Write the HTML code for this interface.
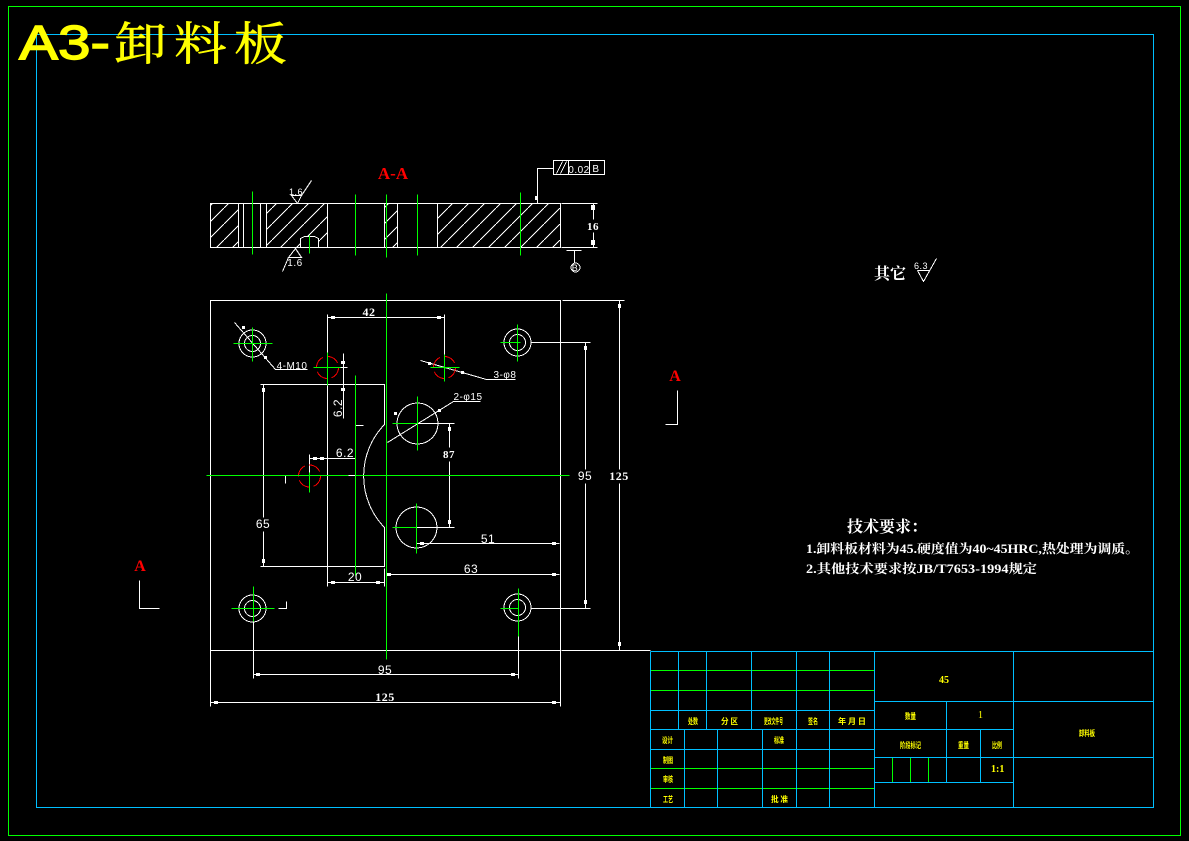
<!DOCTYPE html>
<html><head><meta charset="utf-8"><style>
html,body{margin:0;padding:0;background:#000;width:1189px;height:841px;overflow:hidden}
svg{display:block}
text{font-family:"Liberation Sans","Noto Sans CJK SC",sans-serif}
.s{font-family:"Liberation Serif","Noto Serif CJK SC",serif;font-weight:700}
.w line,.w path,.w circle,.w rect.o,.w polyline{fill:none;stroke:#fff;stroke-width:1}
.g line{stroke:#0f0;stroke-width:1}
.b line{stroke:#00bfff;stroke-width:1}
.g2 line{stroke:#0f0;stroke-width:1}
.t text{fill:#fff;text-anchor:middle;font-size:12px;letter-spacing:.5px}
.y text{fill:#ff0;font-size:8px;font-weight:700;font-family:"Noto Sans CJK SC",sans-serif}
.a rect{fill:#fff;stroke:none}
.r circle{fill:none;stroke:#f00;stroke-width:1;stroke-dasharray:13 4}
</style></head><body>
<svg width="1189" height="841" viewBox="0 0 1189 841" xmlns="http://www.w3.org/2000/svg" shape-rendering="crispEdges">
<defs>
<pattern id="h" patternUnits="userSpaceOnUse" width="16" height="16"><path d="M0 16L16 0" stroke="#fff" stroke-width="1" fill="none"/></pattern>
</defs>
<rect width="1189" height="841" fill="#000"/>
<rect x="8.5" y="6.5" width="1172" height="829" fill="none" stroke="#0f0"/>
<rect x="36.5" y="34.5" width="1117" height="773" fill="none" stroke="#00bfff"/>

<g shape-rendering="auto">
<text x="19" y="59" font-size="48" font-weight="400" fill="#ff0" stroke="#ff0" stroke-width="1.4" textLength="91" lengthAdjust="spacingAndGlyphs" style="font-family:'Liberation Sans',sans-serif">A3-</text>
<text transform="translate(114 60) scale(1.15 1)" font-size="46" fill="#ff0" stroke="#ff0" stroke-width=".5" style="font-family:'Noto Serif CJK SC',serif;font-weight:400;letter-spacing:6.2px">卸料板</text>
</g>

<!-- section view -->
<rect x="210" y="203" width="28" height="44" fill="url(#h)"/>
<rect x="266" y="203" width="61" height="44" fill="url(#h)"/>
<rect x="384" y="203" width="13" height="44" fill="url(#h)"/>
<rect x="437" y="203" width="123" height="44" fill="url(#h)"/>
<rect x="301" y="236" width="17" height="11" fill="#000"/>
<g class="w" transform="translate(.5 .5)">
<rect class="o" x="210" y="203" width="350" height="44"/>
<line x1="238" y1="203" x2="238" y2="247"/><line x1="243" y1="203" x2="243" y2="247"/>
<line x1="260" y1="203" x2="260" y2="247"/><line x1="266" y1="203" x2="266" y2="247"/>
<line x1="327" y1="203" x2="327" y2="247"/><line x1="384" y1="203" x2="384" y2="247"/>
<line x1="397" y1="203" x2="397" y2="247"/><line x1="437" y1="203" x2="437" y2="247"/>
<path d="M300 247V238L304 236H314L318 238V247"/>
<!-- roughness -->
<path d="M291 195H301L297 203ZM301 195L311 180"/>
<path d="M295 248L301 257H288ZM288 257L282 271"/>
<!-- tolerance -->
<rect class="o" x="553" y="160" width="51" height="14"/>
<line x1="568" y1="160" x2="568" y2="174"/><line x1="589" y1="160" x2="589" y2="174"/>
<path d="M553 168H537V203"/>
<path d="M556 173L562 161M560 173L566 161"/>
<!-- dim 16 -->
<line x1="561" y1="203" x2="597" y2="203"/><line x1="561" y1="247" x2="597" y2="247"/>
<line x1="593" y1="203" x2="593" y2="219"/><line x1="593" y1="232" x2="593" y2="247"/>
<line x1="566" y1="250" x2="581" y2="250"/><line x1="574" y1="250" x2="574" y2="262"/>
<circle cx="575" cy="267" r="4.5"/>
<!-- plan -->
<rect class="o" x="210" y="300" width="350" height="350"/>
<line x1="561" y1="650" x2="650" y2="650"/>
<line x1="562" y1="300" x2="624" y2="300"/>
<!-- slot -->
<path d="M260 384H384V424A74 74 0 0 0 384 527V566H260"/>
<line x1="327" y1="314" x2="327" y2="586"/>
<line x1="444" y1="314" x2="444" y2="356"/>
<line x1="327" y1="317" x2="444" y2="317"/>
<!-- holes -->
<circle cx="252" cy="343" r="13.5"/><circle cx="252" cy="343" r="8"/>
<circle cx="517" cy="342" r="13.5"/><circle cx="517" cy="342" r="8"/>
<circle cx="252" cy="608" r="13.5"/><circle cx="252" cy="608" r="8"/>
<circle cx="517" cy="607" r="13.5"/><circle cx="517" cy="607" r="8"/>
<circle cx="417" cy="423" r="20.5"/><circle cx="416" cy="527" r="20.5"/>
<!-- leaders -->
<path d="M234 322L275 369H307"/>
<path d="M420 360L486 379H515"/>
<path d="M387 442L453 401H480"/>
<!-- dims -->
<path d="M313 367H347"/>
<line x1="343" y1="353" x2="343" y2="418"/>
<line x1="309" y1="454" x2="309" y2="476"/>
<line x1="309" y1="458" x2="355" y2="458"/>
<path d="M355 425H363M285 483V475H293M348 475H355"/>
<line x1="263" y1="384" x2="263" y2="517"/><line x1="263" y1="531" x2="263" y2="566"/>
<line x1="417" y1="423" x2="454" y2="423"/><line x1="416" y1="527" x2="454" y2="527"/>
<line x1="449" y1="423" x2="449" y2="447"/><line x1="449" y1="461" x2="449" y2="527"/>
<line x1="416" y1="527" x2="416" y2="543"/>
<line x1="416" y1="543" x2="559" y2="543"/>
<line x1="386" y1="574" x2="559" y2="574"/><line x1="384" y1="568" x2="384" y2="586"/>
<line x1="327" y1="582" x2="384" y2="582"/>
<line x1="530" y1="342" x2="590" y2="342"/><line x1="530" y1="608" x2="590" y2="608"/>
<line x1="585" y1="342" x2="585" y2="469"/><line x1="585" y1="483" x2="585" y2="608"/>
<line x1="619" y1="300" x2="619" y2="469"/><line x1="619" y1="483" x2="619" y2="650"/>
<line x1="253" y1="621" x2="253" y2="678"/><line x1="518" y1="636" x2="518" y2="678"/>
<line x1="253" y1="674" x2="518" y2="674"/>
<line x1="210" y1="650" x2="210" y2="706"/><line x1="560" y1="650" x2="560" y2="706"/>
<line x1="210" y1="702" x2="560" y2="702"/>
<path d="M278 608H286V601"/>
<!-- A markers -->
<path d="M677 390V424H665"/>
<path d="M139 580V608H159"/>
<!-- other roughness -->
<path d="M917 270H929M917 270L923 281L936 258"/>
</g>
<g class="a">
<rect x="535" y="196" width="3" height="4"/>
<rect x="591" y="205" width="4" height="5"/><rect x="591" y="240" width="4" height="5"/>
<rect x="331" y="316" width="4" height="3"/><rect x="437" y="316" width="4" height="3"/>
<rect x="242" y="326" width="3" height="3"/><rect x="264" y="356" width="3" height="3"/>
<rect x="341" y="361" width="4" height="3"/><rect x="341" y="388" width="4" height="3"/>
<rect x="313" y="457" width="4" height="3"/><rect x="320" y="457" width="4" height="3"/>
<rect x="262" y="388" width="3" height="4"/><rect x="262" y="559" width="3" height="4"/>
<rect x="448" y="427" width="3" height="4"/><rect x="448" y="520" width="3" height="4"/>
<rect x="420" y="542" width="4" height="3"/><rect x="552" y="542" width="4" height="3"/>
<rect x="387" y="573" width="4" height="3"/><rect x="552" y="573" width="4" height="3"/>
<rect x="331" y="581" width="4" height="3"/><rect x="376" y="581" width="4" height="3"/>
<rect x="584" y="346" width="3" height="4"/><rect x="584" y="600" width="3" height="4"/>
<rect x="618" y="304" width="3" height="4"/><rect x="618" y="642" width="3" height="4"/>
<rect x="256" y="673" width="4" height="3"/><rect x="511" y="673" width="4" height="3"/>
<rect x="214" y="701" width="4" height="3"/><rect x="552" y="701" width="4" height="3"/>
<rect x="394" y="412" width="3" height="3"/><rect x="438" y="409" width="3" height="3"/>
<rect x="428" y="362" width="3" height="3"/><rect x="461" y="371" width="3" height="3"/>
</g>
<g class="r">
<circle cx="327.5" cy="367.5" r="11"/><circle cx="444.5" cy="367.5" r="11"/><circle cx="309.5" cy="476" r="11"/>
</g>
<g class="g" transform="translate(.5 .5)">
<line x1="252" y1="191" x2="252" y2="254"/><line x1="355" y1="194" x2="355" y2="255"/>
<line x1="386" y1="194" x2="386" y2="257"/><line x1="417" y1="194" x2="417" y2="255"/>
<line x1="520" y1="192" x2="520" y2="255"/><line x1="309" y1="235" x2="309" y2="253"/>
<line x1="386" y1="293" x2="386" y2="659"/><line x1="355" y1="375" x2="355" y2="575"/>
<line x1="206" y1="475" x2="348" y2="475"/><line x1="355" y1="475" x2="569" y2="475"/>
<line x1="233" y1="343" x2="272" y2="343"/><line x1="252" y1="327" x2="252" y2="361"/>
<line x1="500" y1="342" x2="520" y2="342"/><line x1="517" y1="324" x2="517" y2="361"/>
<line x1="313" y1="367" x2="340" y2="367"/><line x1="327" y1="352" x2="327" y2="385"/>
<line x1="430" y1="367" x2="459" y2="367"/><line x1="444" y1="354" x2="444" y2="381"/>
<line x1="309" y1="472" x2="309" y2="492"/>
<line x1="392" y1="423" x2="417" y2="423"/><line x1="417" y1="396" x2="417" y2="450"/>
<line x1="392" y1="527" x2="416" y2="527"/><line x1="416" y1="503" x2="416" y2="553"/>
<line x1="231" y1="608" x2="274" y2="608"/><line x1="253" y1="586" x2="253" y2="621"/>
<line x1="500" y1="608" x2="518" y2="608"/><line x1="518" y1="588" x2="518" y2="636"/>
</g>

<!-- dimension text -->
<g shape-rendering="auto">
<text class="s" x="393" y="179" font-size="17" fill="#f00" text-anchor="middle">A-A</text>
<text class="s" x="675" y="381" font-size="16" fill="#f00" text-anchor="middle">A</text>
<text class="s" x="140" y="571" font-size="16" fill="#f00" text-anchor="middle">A</text>
<g class="t">
<text x="296" y="195" style="font-size:9px">1.6</text>
<text x="295" y="266" style="font-size:10px">1.6</text>
<text x="579" y="173" style="font-size:10px">0.02</text>
<text x="596" y="172" style="font-size:10px">B</text>
<text x="593" y="230" class="s" style="font-size:11px">16</text>
<text x="575" y="271" style="font-size:9px">B</text>
<text x="369" y="316" class="s" style="font-size:12px">42</text>
<text x="292" y="369" style="font-size:10px">4-M10</text>
<text x="505" y="378" style="font-size:10px">3-φ8</text>
<text x="468" y="400" style="font-size:10px">2-φ15</text>
<text x="345" y="457">6.2</text>
<text x="449" y="458" class="s" style="font-size:11px">87</text>
<text x="263" y="528">65</text>
<text x="585" y="480">95</text>
<text x="619" y="480" class="s" style="font-size:12px">125</text>
<text x="488" y="543">51</text>
<text x="471" y="573">63</text>
<text x="355" y="581">20</text>
<text x="385" y="674">95</text>
<text x="385" y="701" class="s" style="font-size:12px">125</text>
<text x="0" y="0" transform="translate(342 408) rotate(-90)">6.2</text>
<text x="921" y="269" style="font-size:9px">6.3</text>
</g>
<text class="s" x="874" y="279" font-size="16" fill="#fff" style="font-family:'Noto Serif CJK SC',serif">其它</text>
<text class="s" x="847" y="532" font-size="16" fill="#fff" style="font-family:'Noto Serif CJK SC',serif">技术要求：</text>
<text class="s" x="806" y="553" font-size="12.5" fill="#fff" textLength="333" lengthAdjust="spacingAndGlyphs" style="font-family:'Liberation Serif','Noto Serif CJK SC',serif">1.卸料板材料为45.硬度值为40~45HRC,热处理为调质。</text>
<text class="s" x="806" y="573" font-size="12.5" fill="#fff" textLength="231" lengthAdjust="spacingAndGlyphs" style="font-family:'Liberation Serif','Noto Serif CJK SC',serif">2.其他技术要求按JB/T7653-1994规定</text>
</g>

<!-- title block -->
<g class="g2" transform="translate(.5 .5)">
<line x1="650" y1="670" x2="874" y2="670"/><line x1="650" y1="690" x2="874" y2="690"/>
<line x1="650" y1="768" x2="874" y2="768"/><line x1="650" y1="788" x2="874" y2="788"/>
<line x1="892" y1="757" x2="892" y2="782"/><line x1="910" y1="757" x2="910" y2="782"/><line x1="928" y1="757" x2="928" y2="782"/>
</g>
<g class="b" transform="translate(.5 .5)">
<line x1="650" y1="651" x2="1153" y2="651"/>
<line x1="650" y1="651" x2="650" y2="807"/>
<line x1="650" y1="710" x2="874" y2="710"/><line x1="650" y1="729" x2="1013" y2="729"/><line x1="650" y1="749" x2="874" y2="749"/>
<line x1="678" y1="651" x2="678" y2="729"/><line x1="706" y1="651" x2="706" y2="729"/>
<line x1="751" y1="651" x2="751" y2="729"/><line x1="796" y1="651" x2="796" y2="807"/>
<line x1="829" y1="651" x2="829" y2="807"/><line x1="874" y1="651" x2="874" y2="807"/>
<line x1="684" y1="729" x2="684" y2="807"/><line x1="717" y1="729" x2="717" y2="807"/><line x1="762" y1="729" x2="762" y2="807"/>
<line x1="1013" y1="651" x2="1013" y2="807"/>
<line x1="874" y1="701" x2="1153" y2="701"/><line x1="874" y1="757" x2="1153" y2="757"/><line x1="874" y1="782" x2="1013" y2="782"/>
<line x1="946" y1="701" x2="946" y2="782"/><line x1="980" y1="729" x2="980" y2="782"/>
</g>
<g class="y" shape-rendering="auto">
<text x="688" y="724" textLength="10" lengthAdjust="spacingAndGlyphs">处数</text>
<text x="721" y="724" textLength="17" lengthAdjust="spacingAndGlyphs">分 区</text>
<text x="764" y="724" textLength="19" lengthAdjust="spacingAndGlyphs">更改文件号</text>
<text x="808" y="724" textLength="10" lengthAdjust="spacingAndGlyphs">签名</text>
<text x="838" y="724" textLength="28" lengthAdjust="spacingAndGlyphs">年  月  日</text>
<text x="662" y="743" textLength="11" lengthAdjust="spacingAndGlyphs">设计</text>
<text x="774" y="743" textLength="10" lengthAdjust="spacingAndGlyphs">标准</text>
<text x="663" y="763" textLength="10" lengthAdjust="spacingAndGlyphs">制图</text>
<text x="663" y="782" textLength="10" lengthAdjust="spacingAndGlyphs">审核</text>
<text x="663" y="802" textLength="10" lengthAdjust="spacingAndGlyphs">工艺</text>
<text x="771" y="802" textLength="17" lengthAdjust="spacingAndGlyphs">批 准</text>
<text x="905" y="719" textLength="11" lengthAdjust="spacingAndGlyphs">数量</text>
<text x="900" y="748" textLength="21" lengthAdjust="spacingAndGlyphs">阶段标记</text>
<text x="958" y="748" textLength="11" lengthAdjust="spacingAndGlyphs">重量</text>
<text x="992" y="748" textLength="10" lengthAdjust="spacingAndGlyphs">比例</text>
<text x="1079" y="736" textLength="16" lengthAdjust="spacingAndGlyphs">卸料板</text>
<text x="939" y="683" style="font-family:'Liberation Serif',serif;font-size:10px">45</text>
<text x="978" y="718" style="font-family:'Liberation Serif',serif;font-size:10px;font-weight:400">1</text>
<text x="991" y="772" style="font-family:'Liberation Serif',serif;font-size:10px">1:1</text>
</g>
</svg>
</body></html>
